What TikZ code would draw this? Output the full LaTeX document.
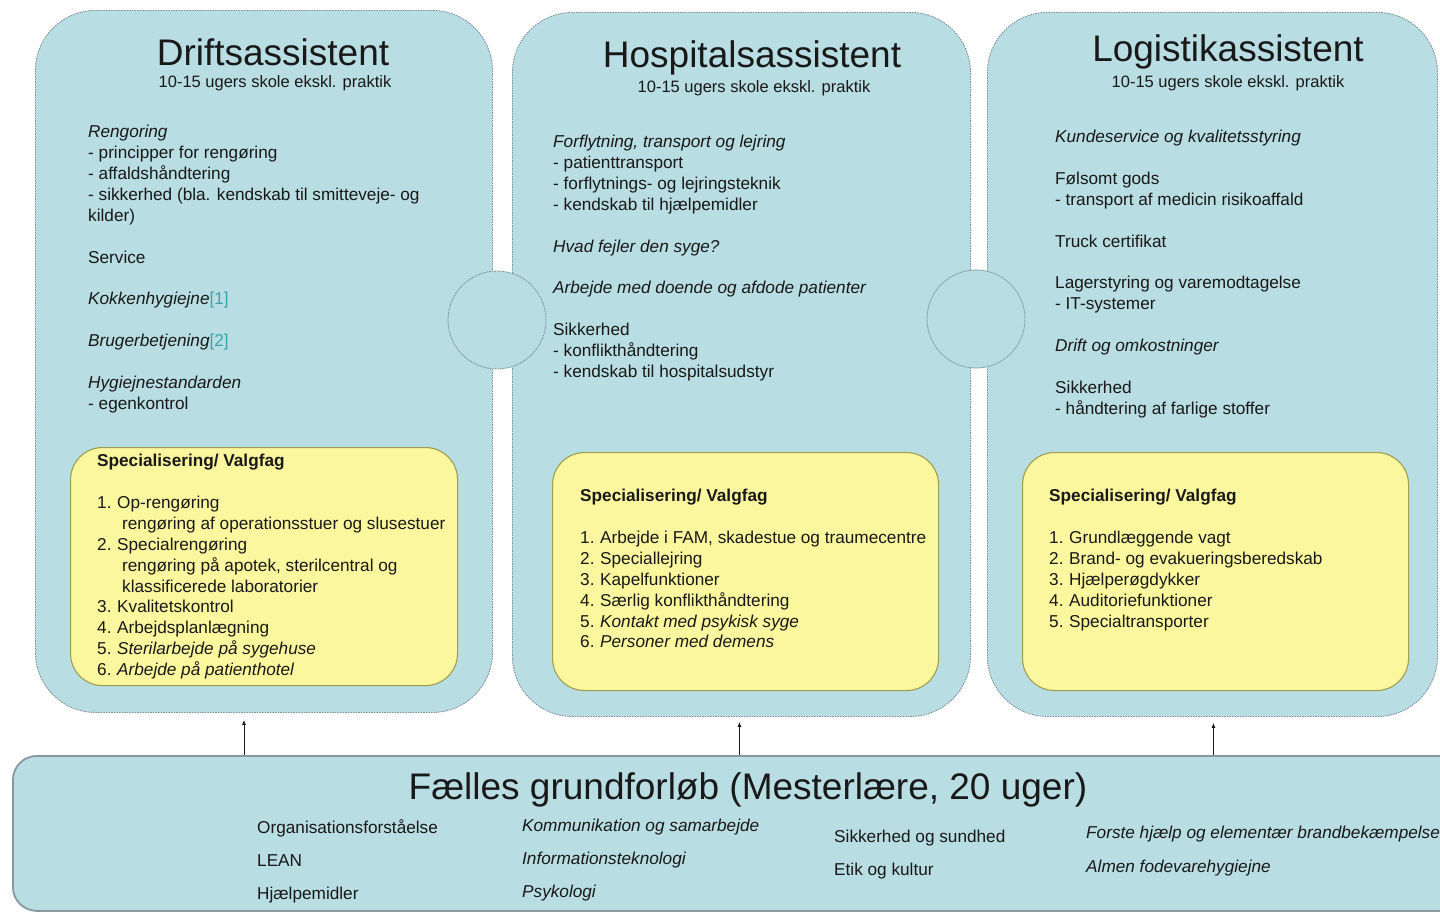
\documentclass[tikz,border=0pt]{standalone}
\usepackage{fontspec}
\setmainfont{Liberation Sans}
\usetikzlibrary{arrows.meta,calc}
\definecolor{boxblue}{RGB}{184,221,226}
\definecolor{boxline}{RGB}{128,146,154}
\definecolor{circline}{RGB}{140,175,182}
\definecolor{ylw}{RGB}{251,247,158}
\definecolor{ylwline}{RGB}{158,158,82}
\definecolor{txtcol}{RGB}{25,25,25}
\definecolor{refteal}{RGB}{60,165,170}
\definecolor{baseline}{RGB}{135,152,158}
\newcommand{\bsk}{\\[20.9pt]}
\newcommand{\nr}[1]{\makebox[20pt][l]{#1}}
\begin{document}
\begin{tikzpicture}[x=1pt,y=-1pt,
  bigbox/.style={draw=boxline, fill=boxblue, line width=0.9pt, dash pattern=on 1.6pt off 1pt,
    rounded corners=60pt, anchor=north west, inner sep=0pt},
  circbox/.style={circle, fill=boxblue, draw=boxline, line width=0.9pt, dash pattern=on 1.6pt off 1pt,
    minimum size=98pt, inner sep=0pt},
  ybox/.style={draw=ylwline, fill=ylw, line width=1.1pt, rounded corners=32pt, anchor=north west, inner sep=0pt},
  botbox/.style={draw=baseline, fill=boxblue, line width=1.8pt, rounded corners=24pt, anchor=north west, inner sep=0pt},
  title/.style={font=\fontsize{37}{40}\selectfont, text=txtcol, inner sep=0pt},
  subtitle/.style={font=\fontsize{16.5}{20}\selectfont, text=txtcol, inner sep=0pt},
  body/.style={font=\fontsize{17.2}{20.9}\selectfont, text=txtcol, align=left, anchor=north west, inner sep=0pt},
  botcol/.style={font=\fontsize{17.2}{33}\selectfont, text=txtcol, align=left, anchor=north west, inner sep=0pt},
  arr/.style={draw=txtcol, line width=0.9pt, -{Latex[length=5pt,width=4pt]}}
]
\useasboundingbox (0,0) rectangle (1440,913);
\clip (0,0) rectangle (1440,913);

% main boxes
\node[bigbox, minimum width=457pt, minimum height=702pt] (drift) at (35,10) {};
\node[bigbox, minimum width=458pt, minimum height=704pt] (hosp) at (512,12) {};
\node[bigbox, minimum width=450pt, minimum height=704pt] (logi) at (987,12) {};

% linking circles
\node[circbox] (c1) at (497,320) {};
\node[circbox, draw=circline, solid] (c2) at (976,319) {};

% yellow boxes
\node[ybox, minimum width=387pt, minimum height=238pt] (ydrift) at (70,447) {};
\node[ybox, minimum width=386pt, minimum height=238pt] (yhosp) at (552,452) {};
\node[ybox, minimum width=386pt, minimum height=238pt] (ylogi) at (1022,452) {};

% base box
\node[botbox, minimum width=1480pt, minimum height=155pt] (base) at (12,755) {};

% arrows
\coordinate (a1) at ($(drift.south)+(-20,7)$);
\coordinate (a2) at ($(hosp.south)+(-2,5)$);
\coordinate (a3) at ($(logi.south)+(1,6)$);
\draw[arr] (base.north -| a1) -- (a1);
\draw[arr] (base.north -| a2) -- (a2);
\draw[arr] (base.north -| a3) -- (a3);

% titles
\node[title] (t1) at (273,52) {Driftsassistent};
\node[subtitle] (s1) at (275,83) {10-15 ugers skole ekskl. praktik};
\node[title] (t2) at (752,58) {Hospitalsassistent};
\node[subtitle] (s2) at (754,88) {10-15 ugers skole ekskl. praktik};
\node[title] (t3) at (1228,52) {Logistikassistent};
\node[subtitle] (s3) at (1228,83) {10-15 ugers skole ekskl. praktik};

% box 1 body
\node[body] (b1) at (88,125) {{\itshape Rengoring}\\
- principper for rengøring\\
- affaldshåndtering\\
- sikkerhed (bla. kendskab til smitteveje- og\\
kilder)\bsk
Service\bsk
{\itshape Kokkenhygiejne}{\color{refteal}[1]}\bsk
{\itshape Brugerbetjening}{\color{refteal}[2]}\bsk
{\itshape Hygiejnestandarden}\\
- egenkontrol};

% box 2 body
\node[body] (b2) at (553,135) {{\itshape Forflytning, transport og lejring}\\
- patienttransport\\
- forflytnings- og lejringsteknik\\
- kendskab til hjælpemidler\bsk
{\itshape Hvad fejler den syge?}\bsk
{\itshape Arbejde med doende og afdode patienter}\bsk
Sikkerhed\\
- konflikthåndtering\\
- kendskab til hospitalsudstyr};

% box 3 body
\node[body] (b3) at (1055,130) {{\itshape Kundeservice og kvalitetsstyring}\bsk
Følsomt gods\\
- transport af medicin risikoaffald\bsk
Truck certifikat\bsk
Lagerstyring og varemodtagelse\\
- IT-systemer\bsk
{\itshape Drift og omkostninger}\bsk
Sikkerhed\\
- håndtering af farlige stoffer};

% yellow box texts
\node[body] (yt1) at (97,454) {{\bfseries Specialisering/ Valgfag}\bsk
\nr{1.}Op-rengøring\\
\hspace*{25pt}rengøring af operationsstuer og slusestuer\\
\nr{2.}Specialrengøring\\
\hspace*{25pt}rengøring på apotek, sterilcentral og\\
\hspace*{25pt}klassificerede laboratorier\\
\nr{3.}Kvalitetskontrol\\
\nr{4.}Arbejdsplanlægning\\
\nr{5.}{\itshape Sterilarbejde på sygehuse}\\
\nr{6.}{\itshape Arbejde på patienthotel}};

\node[body] (yt2) at (580,489) {{\bfseries Specialisering/ Valgfag}\bsk
\nr{1.}Arbejde i FAM, skadestue og traumecentre\\
\nr{2.}Speciallejring\\
\nr{3.}Kapelfunktioner\\
\nr{4.}Særlig konflikthåndtering\\
\nr{5.}{\itshape Kontakt med psykisk syge}\\
\nr{6.}{\itshape Personer med demens}};

\node[body] (yt3) at (1049,489) {{\bfseries Specialisering/ Valgfag}\bsk
\nr{1.}Grundlæggende vagt\\
\nr{2.}Brand- og evakueringsberedskab\\
\nr{3.}Hjælperøgdykker\\
\nr{4.}Auditoriefunktioner\\
\nr{5.}Specialtransporter};

% base texts
\node[title] (bt) at (748,790) {Fælles grundforløb (Mesterlære, 20 uger)};
\node[botcol] (col1) at (257,819) {Organisationsforståelse\\LEAN\\Hjælpemidler};
\node[botcol] (col2) at (522,819) {\itshape Kommunikation og samarbejde\\\itshape Informationsteknologi\\\itshape Psykologi};
\node[botcol] (col3) at (834,830) {Sikkerhed og sundhed\\Etik og kultur};
\node[botcol, font=\fontsize{17.2}{34}\selectfont] (col4) at (1086,826) {\itshape Forste hjælp og elementær brandbekæmpelse\\\itshape Almen fodevarehygiejne};
\end{tikzpicture}
\end{document}
